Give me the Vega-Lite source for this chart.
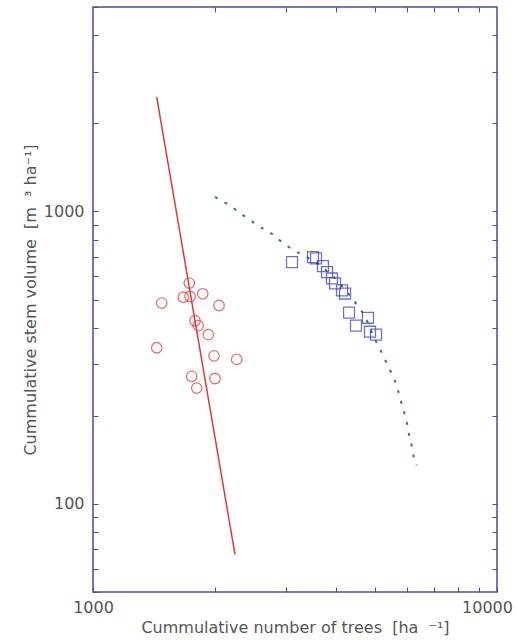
{
  "$schema": "https://vega.github.io/schema/vega-lite/v6.json",
  "autosize": {"type": "none"},
  "width": 404,
  "height": 585,
  "padding": {"left": 93, "top": 7, "right": 20, "bottom": 52},
  "background": "white",
  "config": {
    "view": {"stroke": "#4a4aa8", "strokeWidth": 1.5},
    "axis": {
      "domain": false,
      "tickColor": "#4a4aa8",
      "tickWidth": 1,
      "tickSize": 5,
      "offset": -5,
      "grid": false,
      "labelFont": "DejaVu Sans",
      "labelFontSize": 16,
      "labelColor": "#555",
      "titleFont": "DejaVu Sans",
      "titleFontSize": 16,
      "titleFontWeight": "normal",
      "titleColor": "#555"
    }
  },
  "datasets": {
    "curve": [
      {"n": 2004, "v": 1121}, {"n": 2162, "v": 1055}, {"n": 2285, "v": 1000},
      {"n": 2419, "v": 944}, {"n": 2591, "v": 886}, {"n": 2773, "v": 838},
      {"n": 2953, "v": 780}, {"n": 3127, "v": 738}, {"n": 3348, "v": 704},
      {"n": 3646, "v": 655}, {"n": 3972, "v": 591}, {"n": 4327, "v": 516},
      {"n": 4712, "v": 440}, {"n": 4935, "v": 376}, {"n": 5184, "v": 329},
      {"n": 5333, "v": 303}, {"n": 5497, "v": 278}, {"n": 5647, "v": 255},
      {"n": 5754, "v": 230}, {"n": 5864, "v": 210}, {"n": 5977, "v": 191},
      {"n": 6056, "v": 172.5}, {"n": 6160, "v": 157}, {"n": 6232, "v": 142.6},
      {"n": 6328, "v": 135.6}
    ],
    "redline": [
      {"n": 1438, "v": 2460}, {"n": 2246, "v": 67.3}
    ],
    "circles": [
      {"n": 1731, "v": 569}, {"n": 1673, "v": 509}, {"n": 1739, "v": 512},
      {"n": 1869, "v": 523}, {"n": 1479, "v": 486}, {"n": 2051, "v": 477},
      {"n": 1788, "v": 423}, {"n": 1822, "v": 407}, {"n": 1929, "v": 379},
      {"n": 1438, "v": 342}, {"n": 1993, "v": 321}, {"n": 2268, "v": 312},
      {"n": 1755, "v": 273}, {"n": 2004, "v": 268.5}, {"n": 1806, "v": 249}
    ],
    "squares": [
      {"n": 3109, "v": 671}, {"n": 3504, "v": 698}, {"n": 3565, "v": 691},
      {"n": 3709, "v": 650}, {"n": 3796, "v": 620}, {"n": 3904, "v": 590},
      {"n": 3972, "v": 568}, {"n": 4134, "v": 537}, {"n": 4206, "v": 524},
      {"n": 4303, "v": 451}, {"n": 4477, "v": 407}, {"n": 4794, "v": 433},
      {"n": 4849, "v": 388}, {"n": 5019, "v": 379}
    ]
  },
  "resolve": {"axis": {"x": "independent", "y": "independent"}},
  "layer": [
    {
      "data": {"name": "curve"},
      "mark": {"type": "line", "color": "#3d7a62", "strokeWidth": 2, "strokeDash": [3, 8]},
      "encoding": {
        "x": {
          "field": "n", "type": "quantitative",
          "scale": {"type": "log", "domain": [1000, 10000], "nice": false},
          "axis": {
            "orient": "bottom",
            "values": [1000, 2000, 3000, 4000, 5000, 6000, 7000, 8000, 9000, 10000],
            "format": "d",
            "labelExpr": "datum.value == 1000 || datum.value == 10000 ? datum.label : ''",
            "labelOffset": {"condition": {"test": "datum.value == 10000", "value": -10}, "value": 0},
            "labelPadding": 7,
            "labelFlush": false,
            "labelOverlap": false,
            "title": "Cummulative number of trees \u00a0[ha \u00a0⁻¹]",
            "titlePadding": 4
          }
        },
        "y": {
          "field": "v", "type": "quantitative",
          "scale": {"type": "log", "domain": [50, 5000], "nice": false},
          "axis": {
            "orient": "left",
            "values": [50, 60, 70, 80, 90, 100, 200, 300, 400, 500, 600, 700, 800, 900, 1000, 2000, 3000, 4000, 5000],
            "format": "d",
            "labelExpr": "datum.value == 100 || datum.value == 1000 ? datum.label : ''",
            "labelPadding": 9,
            "labelOverlap": false,
            "title": "Cummulative stem volume \u00a0[m \u00a0³ ha⁻¹]",
            "titlePadding": 5
          }
        }
      }
    },
    {
      "data": {"name": "redline"},
      "mark": {"type": "line", "color": "#d63c3c", "strokeWidth": 1.5},
      "encoding": {
        "x": {
          "field": "n", "type": "quantitative",
          "scale": {"type": "log", "domain": [1000, 10000], "nice": false},
          "axis": {
            "orient": "top",
            "values": [2000, 3000, 4000, 5000, 6000, 7000, 8000, 9000],
            "labels": false,
            "title": null
          }
        },
        "y": {
          "field": "v", "type": "quantitative",
          "scale": {"type": "log", "domain": [50, 5000], "nice": false},
          "axis": {
            "orient": "right",
            "values": [60, 70, 80, 90, 100, 200, 300, 400, 500, 600, 700, 800, 900, 1000, 2000, 3000, 4000],
            "labels": false,
            "title": null
          }
        }
      }
    },
    {
      "data": {"name": "circles"},
      "mark": {"type": "point", "shape": "circle", "color": "#d63c3c", "size": 110, "strokeWidth": 1.3, "filled": false},
      "encoding": {
        "x": {"field": "n", "type": "quantitative", "axis": null},
        "y": {"field": "v", "type": "quantitative", "axis": null}
      }
    },
    {
      "data": {"name": "squares"},
      "mark": {"type": "point", "shape": "square", "color": "#3535c0", "size": 120, "strokeWidth": 1.3, "filled": false},
      "encoding": {
        "x": {"field": "n", "type": "quantitative", "axis": null},
        "y": {"field": "v", "type": "quantitative", "axis": null}
      }
    }
  ]
}
